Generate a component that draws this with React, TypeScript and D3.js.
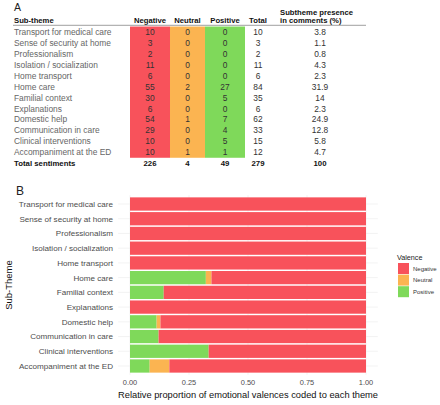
import React from "react";
import * as d3 from "d3";

const subthemes = [
  "Transport for medical care",
  "Sense of security at home",
  "Professionalism",
  "Isolation / socialization",
  "Home transport",
  "Home care",
  "Familial context",
  "Explanations",
  "Domestic help",
  "Communication in care",
  "Clinical interventions",
  "Accompaniment at the ED",
];
const negative = [10, 3, 2, 11, 6, 55, 30, 6, 54, 29, 10, 10];
const neutral = [0, 0, 0, 0, 0, 2, 0, 0, 1, 0, 0, 1];
const positive = [0, 0, 0, 0, 0, 27, 5, 0, 7, 4, 5, 1];
const totals = [10, 3, 2, 11, 6, 84, 35, 6, 62, 33, 15, 12];
const presence = ["3.8", "1.1", "0.8", "4.3", "2.3", "31.9", "14", "2.3", "24.9", "12.8", "5.8", "4.7"];
const totalRow = ["226", "4", "49", "279", "100"];
const valences = ["Negative", "Neutral", "Positive"];
const xTicks = [0, 0.25, 0.5, 0.75, 1];

const COLORS: Record<string, string> = {
  Negative: "#f8525b",
  Neutral: "#fbb451",
  Positive: "#7fd95a",
};

const FONT = "'Liberation Sans', Arial, sans-serif";

export default function App() {
  // ---------- Table (A) ----------
  const rowY = d3.scaleLinear().domain([0, 11]).range([32, 152.3]);
  const rowH = rowY(1) - rowY(0);
  const colCenters = { neg: 150, neu: 187.5, pos: 225, tot: 258, pres: 320 };
  const cellTop = rowY(0) - rowH / 2;
  const cellBottom = rowY(11) + rowH / 2;

  // ---------- Chart (B) ----------
  const x = d3.scaleLinear().domain([0, 1]).range([130, 366]);
  const yCenter = d3.scaleLinear().domain([0, 11]).range([204, 366]);
  const step = yCenter(1) - yCenter(0);
  const barH = step * 0.9;
  const panelTop = yCenter(0) - 0.6 * step;
  const panelBottom = yCenter(11) + 0.6 * step;
  const panelLeft = x(-0.05);
  const panelRight = x(1.05);

  const stackData = subthemes.map((s, i) => ({
    name: s,
    Positive: positive[i] / totals[i],
    Neutral: neutral[i] / totals[i],
    Negative: negative[i] / totals[i],
  }));
  const stack = d3.stack<any>().keys(["Positive", "Neutral", "Negative"]);
  const series = stack(stackData);

  return (
    <svg
      width={440}
      height={405}
      style={{ position: "absolute", left: 0, top: 0, background: "#fff" }}
      fontFamily={FONT}
    >
      {/* ---- A ---- */}
      <text x={14} y={10.7} fontSize={10.5} fill="#222">A</text>
      {/* colored columns */}
      <rect x={130} y={cellTop} width={40} height={cellBottom - cellTop} fill={COLORS.Negative} />
      <rect x={170} y={cellTop} width={35} height={cellBottom - cellTop} fill={COLORS.Neutral} />
      <rect x={205} y={cellTop} width={40} height={cellBottom - cellTop} fill={COLORS.Positive} />
      {/* header */}
      <g fontSize={7.7} fontWeight="bold" fill="#111">
        <text x={14} y={23}>Sub-theme</text>
        <text x={colCenters.neg} y={23} textAnchor="middle">Negative</text>
        <text x={colCenters.neu} y={23} textAnchor="middle">Neutral</text>
        <text x={colCenters.pos} y={23} textAnchor="middle">Positive</text>
        <text x={colCenters.tot} y={23} textAnchor="middle">Total</text>
        <text x={280} y={14.5}>Subtheme presence</text>
        <text x={280} y={23}>in comments (%)</text>
      </g>
      <line x1={13} x2={366} y1={25.3} y2={25.3} stroke="#888" strokeWidth={0.8} />
      {subthemes.map((s, i) => {
        const y = rowY(i) + 3;
        return (
          <g key={s} fontSize={8.4}>
            <text x={14} y={y} fill="#666">{s}</text>
            <text x={colCenters.neg} y={y} textAnchor="middle" fill="#333">{negative[i]}</text>
            <text x={colCenters.neu} y={y} textAnchor="middle" fill="#333">{neutral[i]}</text>
            <text x={colCenters.pos} y={y} textAnchor="middle" fill="#333">{positive[i]}</text>
            <text x={colCenters.tot} y={y} textAnchor="middle" fill="#333">{totals[i]}</text>
            <text x={colCenters.pres} y={y} textAnchor="middle" fill="#333">{presence[i]}</text>
          </g>
        );
      })}
      <g fontSize={7.8} fontWeight="bold" fill="#111">
        <text x={14} y={rowY(12) + 3}>Total sentiments</text>
        {[colCenters.neg, colCenters.neu, colCenters.pos, colCenters.tot, colCenters.pres].map((cx, j) => (
          <text key={j} x={cx} y={rowY(12) + 3} textAnchor="middle">{totalRow[j]}</text>
        ))}
      </g>

      {/* ---- B ---- */}
      <text x={16} y={195} fontSize={12} fill="#222">B</text>
      {/* gridlines */}
      <g stroke="#ebebeb" strokeWidth={0.6}>
        {xTicks.map((t) => (
          <line key={"v" + t} x1={x(t)} x2={x(t)} y1={panelTop} y2={panelBottom} />
        ))}
        {subthemes.map((s, i) => (
          <line key={"h" + s} x1={panelLeft} x2={panelRight} y1={yCenter(i)} y2={yCenter(i)} />
        ))}
      </g>
      {/* bars */}
      {series.map((ser) => (
        <g key={ser.key} fill={COLORS[ser.key]}>
          {ser.map((d, i) =>
            d[1] - d[0] > 0 ? (
              <rect
                key={i}
                x={x(d[0])}
                width={x(d[1]) - x(d[0])}
                y={yCenter(i) - barH / 2}
                height={barH}
              />
            ) : null
          )}
        </g>
      ))}
      {/* y labels */}
      <g fontSize={8.1} fill="#4d4d4d" textAnchor="end">
        {subthemes.map((s, i) => (
          <text key={s} x={113} y={yCenter(i) + 2.9}>{s}</text>
        ))}
      </g>
      {/* x ticks */}
      <g fontSize={7.4} fill="#4d4d4d" textAnchor="middle">
        {xTicks.map((t) => (
          <text key={t} x={x(t)} y={384.5}>{d3.format(".2f")(t)}</text>
        ))}
      </g>
      <text x={(x(0) + x(1)) / 2} y={397.5} fontSize={9.3} textAnchor="middle" fill="#111">
        Relative proportion of emotional valences coded to each theme
      </text>
      <text
        transform={`translate(${11.5},${(panelTop + panelBottom) / 2}) rotate(-90)`}
        fontSize={9.5}
        textAnchor="middle"
        fill="#111"
      >
        Sub-Theme
      </text>
      {/* legend */}
      <text x={397} y={259.5} fontSize={7.2} fill="#222">Valence</text>
      {valences.map((v, i) => (
        <g key={v}>
          <rect x={398} y={263 + i * 11.6} width={11} height={11} fill={COLORS[v]} />
          <text x={413} y={263 + i * 11.6 + 7.5} fontSize={6} fill="#333">{v}</text>
        </g>
      ))}
    </svg>
  );
}
